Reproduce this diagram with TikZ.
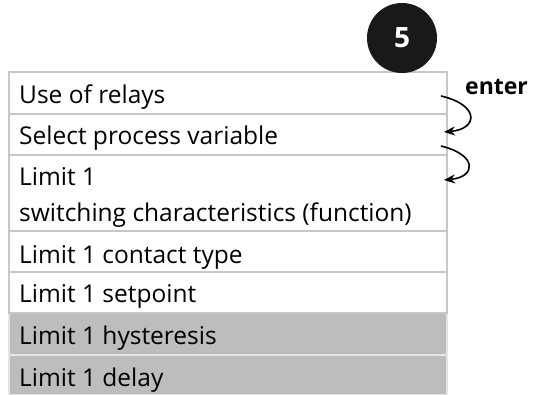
\documentclass[tikz,border=0pt]{standalone}
\usepackage{fontspec}
\setmainfont{Open Sans}
\usetikzlibrary{arrows.meta}
\definecolor{bordergray}{HTML}{C8C8C8}
\definecolor{rowgray}{HTML}{BCBDBF}
\definecolor{sepgray}{HTML}{E4E4E4}
\begin{document}
\begin{tikzpicture}[x=1pt,y=1pt,
  rowbox/.style={draw=bordergray, line width=1.6pt, fill=white},
  grayrow/.style={draw=sepgray, line width=1.6pt, fill=rowgray},
  lbl/.style={anchor=base west, inner sep=0pt, font=\fontsize{24.5}{28}\selectfont},
  arr/.style={line width=1.6pt, -{Stealth[length=11pt,width=9pt,inset=3.5pt]}}]
\useasboundingbox (0,0) rectangle (533,395);
% gray rows
\node[grayrow, minimum width=438pt, minimum height=42pt, anchor=south west, inner sep=0pt] (r6) at (8,39) {};
\node[grayrow, minimum width=438pt, minimum height=40pt, anchor=south west, inner sep=0pt] (r7) at (8,-1) {};
% white rows
\node[rowbox, minimum width=438pt, minimum height=41pt, anchor=south west, inner sep=0pt] (r5) at (8,81) {};
\node[rowbox, minimum width=438pt, minimum height=41pt, anchor=south west, inner sep=0pt] (r4) at (8,122) {};
\node[rowbox, minimum width=438pt, minimum height=76pt, anchor=south west, inner sep=0pt] (r3) at (8,163) {};
\node[rowbox, minimum width=438pt, minimum height=41pt, anchor=south west, inner sep=0pt] (r2) at (8,239) {};
\node[rowbox, minimum width=438pt, minimum height=42pt, anchor=south west, inner sep=0pt] (r1) at (8,280) {};
% labels
\node[lbl] (t1) at (19,291) {Use of relays};
\node[lbl] (t2) at (19,250) {Select process variable};
\node[lbl] (t3a) at (19,209) {Limit 1};
\node[lbl] (t3b) at (19,173) {switching characteristics (function)};
\node[lbl] (t4) at (19,131) {Limit 1 contact type};
\node[lbl] (t5) at (19,92) {Limit 1 setpoint};
\node[lbl] (t6) at (19,50) {Limit 1 hysteresis};
\node[lbl] (t7) at (19,8) {Limit 1 delay};
% step circle
\node[circle, fill=black!90, minimum size=70pt, inner sep=0pt, text=white,
  font=\bfseries\fontsize{28}{32}\selectfont] (step) at (402,357) {5};
% enter
\node[anchor=base west, inner sep=0pt, font=\bfseries\fontsize{23}{27}\selectfont] (enter) at (465,300) {enter};
% arrows
\coordinate (a1s) at (441,299);
\coordinate (a1e) at (444,263);
\coordinate (a2s) at (441,249);
\coordinate (a2e) at (444,215);
\draw[arr] (a1s) .. controls (480,290) and (478,266) .. (a1e);
\draw[arr] (a2s) .. controls (478,240) and (476,218) .. (a2e);
\end{tikzpicture}
\end{document}
